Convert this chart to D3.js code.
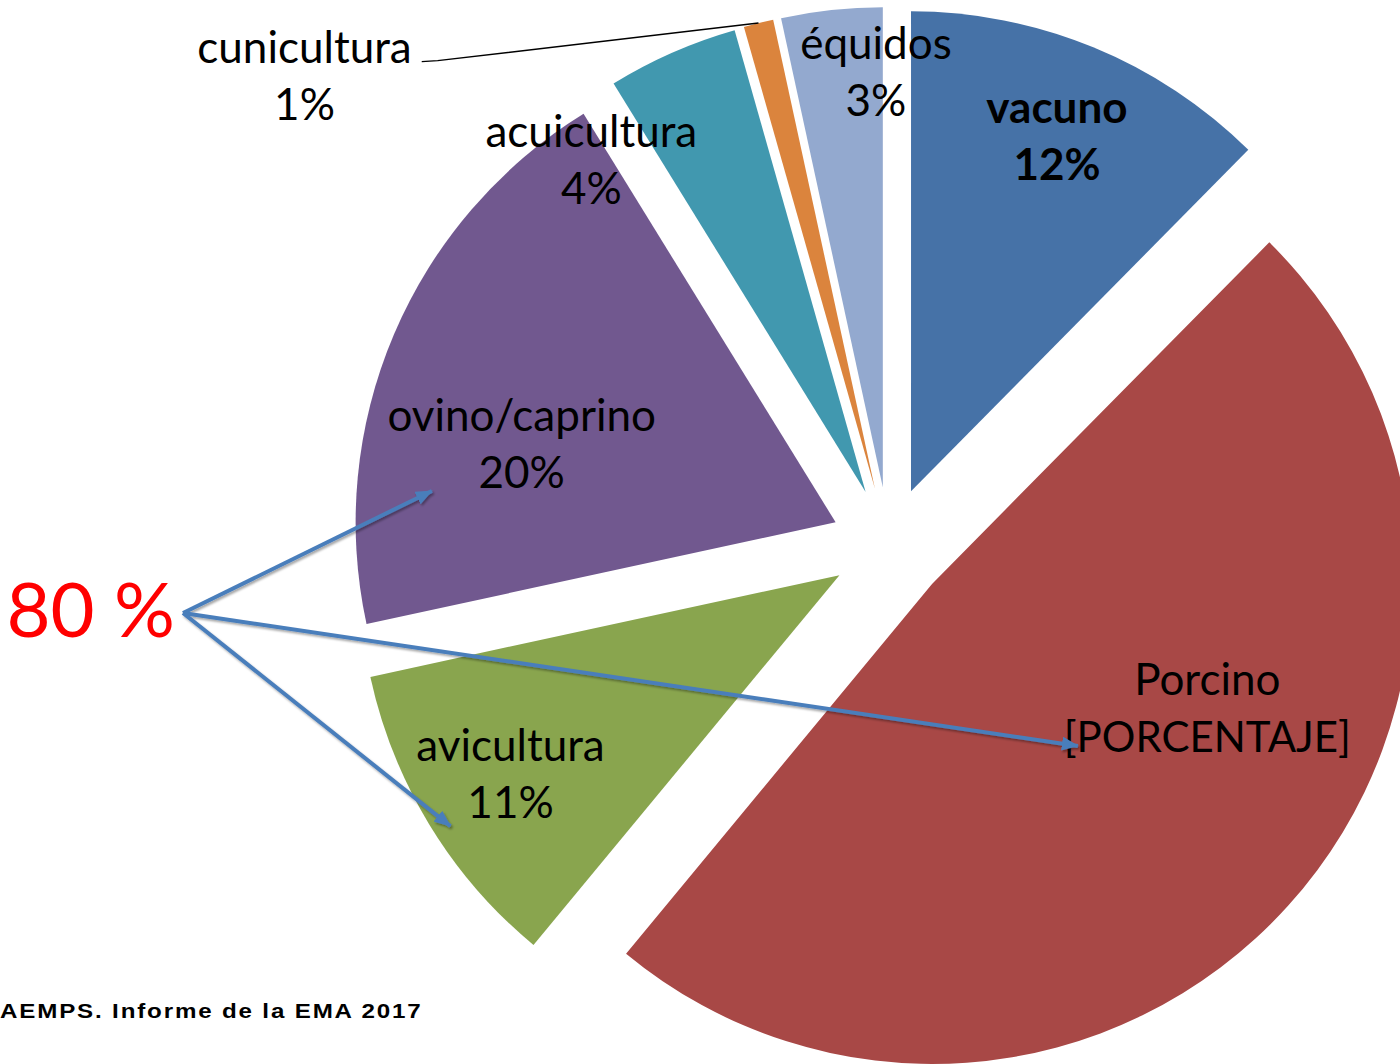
<!DOCTYPE html>
<html>
<head>
<meta charset="utf-8">
<script src="https://cdn.jsdelivr.net/npm/d3@7"></script>
<style>
body { margin: 0; background: #fff; }
svg { display: block; }
</style>
</head>
<body>
<script>
// data
var categories = ["vacuno", "Porcino", "avicultura", "ovino/caprino", "acuicultura", "cunicultura", "équidos"];
var values = [12.4, 48.6, 10.6, 19.6, 4.4, 1.0, 3.4];
var colors = ["#4672a7", "#a84846", "#89a54e", "#71588f", "#4198af", "#db843d", "#93a9cf"];
var boldLabel = ["vacuno"];
var highlighted = ["ovino/caprino", "avicultura", "Porcino"];   // the "80 %" arrows
var highlightText = "80 %";
var sourceText = "AEMPS. Informe de la EMA 2017";

let width = 1400;
let height = 1064;
let cx = 889, cy = 545, R = 480, explode = 58;

// label placement: [angle offset from slice middle (deg), distance from slice tip]
var labelAt = [[-0.7, 396], [-20.1, 297], [1.8, 378], [-6.8, 327], [-14.7, 441], [-39.2, 712], [5.2, 428]];
// arrow tips: [angle offset (deg), distance] for each highlighted slice
var arrowAt = [[-18.6, 405], [-1.5, 463], [5.9, 218]];

let svg = d3.select("body").append("svg")
    .attr("width", width)
    .attr("height", height);

var defs = svg.append("defs");
defs.append("marker")
    .attr("id", "head")
    .attr("markerUnits", "userSpaceOnUse")
    .attr("markerWidth", 18).attr("markerHeight", 14)
    .attr("refX", 16).attr("refY", 7)
    .attr("orient", "auto")
    .append("path")
    .attr("d", "M0,0 L17,7 L0,14 Z")
    .attr("fill", "#4a7ebb");
var shadow = defs.append("filter").attr("id", "shadow")
    .attr("x", "-10%").attr("y", "-10%").attr("width", "120%").attr("height", "120%");
shadow.append("feDropShadow")
    .attr("dx", 1.5).attr("dy", 2).attr("stdDeviation", 1.2)
    .attr("flood-color", "#000").attr("flood-opacity", 0.35);

var total = d3.sum(values);
var fmt = d3.format(".0%");

var pie = d3.pie().sort(null).value(d => d)(values);
var arc = d3.arc().innerRadius(0).outerRadius(R);

function mid(d) { return (d.startAngle + d.endAngle) / 2; }
function shift(d) {
    let a = mid(d);
    return [explode * Math.sin(a), -explode * Math.cos(a)];
}
function polar(d, dDeg, r) {
    let a = mid(d) + dDeg * Math.PI / 180;
    let s = shift(d);
    return [s[0] + r * Math.sin(a), s[1] - r * Math.cos(a)];
}

var chartG = svg.append("g").attr("transform", "translate(" + cx + "," + cy + ")");

chartG.selectAll(".slice")
    .data(pie)
    .join("path")
    .attr("class", "slice")
    .attr("transform", d => "translate(" + shift(d) + ")")
    .attr("d", arc)
    .attr("fill", (d, i) => colors[i]);

// data labels
var labels = chartG.selectAll(".label")
    .data(pie)
    .join("text")
    .attr("class", "label")
    .attr("text-anchor", "middle")
    .style("font-family", "Lato, 'Open Sans', sans-serif")
    .style("font-size", "44px")
    .style("font-weight", (d, i) => boldLabel.includes(categories[i]) ? "bold" : "normal")
    .attr("fill", "#000")
    .attr("transform", (d, i) => "translate(" + polar(d, labelAt[i][0], labelAt[i][1]) + ")");

labels.append("tspan")
    .attr("x", 0).attr("y", 0)
    .text((d, i) => categories[i]);
labels.append("tspan")
    .attr("x", 0).attr("y", 57)
    .style("font-size", (d, i) => categories[i] == "Porcino" ? "42px" : null)
    .text((d, i) => categories[i] == "Porcino" ? "[PORCENTAJE]" : fmt(d.value / total));

// leader line for cunicultura
var ci = categories.indexOf("cunicultura");
var cp = polar(pie[ci], labelAt[ci][0], labelAt[ci][1]);
var cw = labels.filter((d, i) => i == ci).select("tspan").node().getComputedTextLength();
var end = polar(pie[ci], 0, R);
chartG.append("path")
    .attr("d", d3.line()([[cp[0] + cw / 2 + 10, cp[1] - 1], [cp[0] + cw / 2 + 26, cp[1] - 2], end]))
    .attr("fill", "none")
    .attr("stroke", "#000")
    .attr("stroke-width", 1.5);

// "80 %" callout
var origin = [183 - cx, 613 - cy];
chartG.append("text")
    .attr("x", origin[0] - 8)
    .attr("y", origin[1] + 24)
    .attr("text-anchor", "end")
    .style("font-family", "Lato, 'Open Sans', sans-serif")
    .style("font-size", "76px")
    .attr("fill", "#ff0000")
    .text(highlightText);

var arrowG = chartG.append("g").attr("filter", "url(#shadow)");
highlighted.forEach(function(name, k) {
    let i = categories.indexOf(name);
    let tip = polar(pie[i], arrowAt[k][0], arrowAt[k][1]);
    arrowG.append("line")
        .attr("x1", origin[0]).attr("y1", origin[1])
        .attr("x2", tip[0]).attr("y2", tip[1])
        .attr("stroke", "#4a7ebb")
        .attr("stroke-width", 4)
        .attr("marker-end", "url(#head)");
});

// source
svg.append("text")
    .attr("transform", "translate(0,1018) scale(1.15,1)")
    .style("font-family", "'Liberation Sans', Arial, sans-serif")
    .style("font-size", "21px")
    .style("font-weight", "bold")
    .style("letter-spacing", "1.6px")
    .attr("fill", "#000")
    .text(sourceText);
</script>
</body>
</html>
